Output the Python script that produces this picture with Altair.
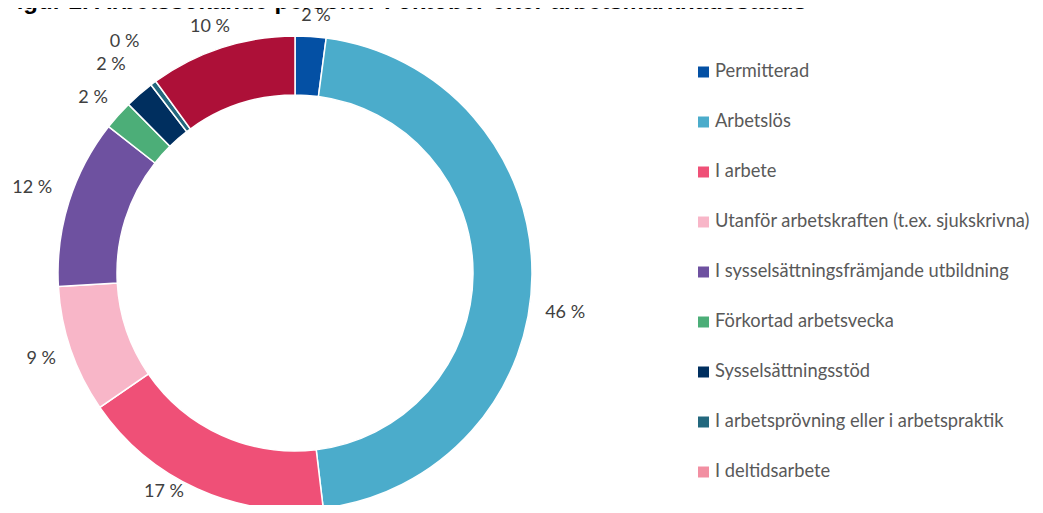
import altair as alt
import pandas as pd
import math

# ---- data ----
title_text = "Figur 2. Arbetssökande personer i oktober efter arbetsmarknadsstatus"
categories = [
    "Permitterad",
    "Arbetslös",
    "I arbete",
    "Utanför arbetskraften (t.ex. sjukskrivna)",
    "I sysselsättningsfrämjande utbildning",
    "Förkortad arbetsvecka",
    "Sysselsättningsstöd",
    "I arbetsprövning eller i arbetspraktik",
    "I deltidsarbete",
]
values = [2.1, 46.0, 17.3, 8.7, 11.5, 2.0, 2.0, 0.4, 10.0]
labels = ["2 %", "46 %", "17 %", "9 %", "12 %", "2 %", "2 %", "0 %", "10 %"]
slice_colors = ["#0450A4", "#4BACCB", "#EF5077", "#F8B6C8", "#6E51A0",
                "#4CAE78", "#002F5F", "#23687E", "#AD1038"]
legend_colors = ["#0450A4", "#4BACCB", "#EF5077", "#F8B6C8", "#6E51A0",
                 "#4CAE78", "#002F5F", "#23687E", "#F28FA2"]

# ---- layout (not data) ----
CX, CY = 287, 265
R_OUT, R_IN = 237, 178
label_radius = [258, 273, 255, 268, 276, 267, 278, 287, 260]
label_shift_deg = [0.9, 8.0, 6.6, 0.2, 0.4, -0.9, -0.4, 0.3, -1.1]
FONT = "Lato"
LEG_X = 690
LEG_Y0, LEG_Y1 = 64, 464

total = sum(values)
df = pd.DataFrame({
    "idx": list(range(len(categories))),
    "cat": categories,
    "value": values,
    "label": labels,
    "lr": label_radius,
    "shift": [s * total / 360.0 for s in label_shift_deg],
})

base = alt.Chart(df)

theta_scale = alt.Scale(domain=[0, total], range=[0, 2 * math.pi])

arcs = base.mark_arc(outerRadius=R_OUT, innerRadius=R_IN, stroke="white", strokeWidth=1.5).encode(
    x=alt.value(CX), y=alt.value(CY),
    theta=alt.Theta("value:Q", stack=True, scale=theta_scale),
    order=alt.Order("idx:Q"),
    fill=alt.Fill("cat:N", scale=alt.Scale(domain=categories, range=slice_colors), legend=None),
)

texts = base.transform_window(
    cum="sum(value)", sort=[alt.SortField("idx")], frame=[None, 0]
).transform_calculate(
    mid="datum.cum - datum.value / 2 + datum.shift"
).mark_text(font=FONT, fontSize=18, color="#404040").encode(
    x=alt.value(CX), y=alt.value(CY),
    theta=alt.Theta("mid:Q", stack=None, scale=theta_scale),
    radius=alt.Radius("lr:Q", scale=None),
    text="label:N",
)

leg_y = alt.Y("idx:O", axis=None, scale=alt.Scale(range=[LEG_Y0, LEG_Y1], padding=0))

leg_sym = base.mark_square(size=121, opacity=1).encode(
    x=alt.value(LEG_X + 5.5), y=leg_y,
    color=alt.Color("cat:N", scale=alt.Scale(domain=categories, range=legend_colors), legend=None),
)

leg_txt = base.mark_text(font=FONT, fontSize=18.3, color="#595959", align="left", baseline="middle").encode(
    x=alt.value(LEG_X + 17), y=leg_y, text="cat:N",
)

title_layer = alt.Chart(pd.DataFrame({"t": [title_text]})).mark_text(
    font="Liberation Sans", fontSize=24, fontWeight="bold", color="#000000",
    align="left", baseline="alphabetic",
).encode(x=alt.value(-6), y=alt.value(1), text="t:N")

chart = alt.layer(arcs, texts, leg_sym, leg_txt, title_layer).properties(
    width=1027, height=497, padding=0,
    autosize=alt.AutoSizeParams(type="none"),
).configure_view(stroke=None)

chart.save("out.html", embed_options={"renderer": "svg", "actions": False})
